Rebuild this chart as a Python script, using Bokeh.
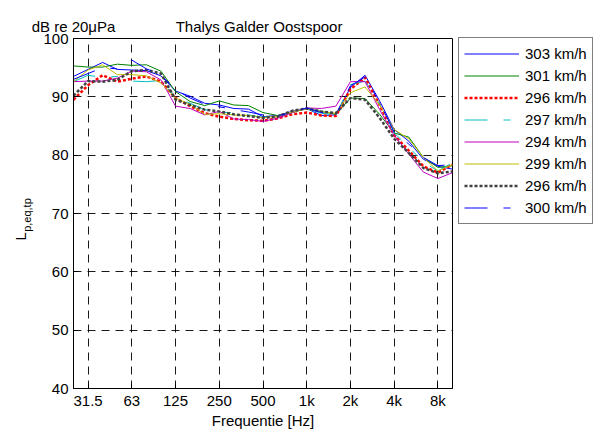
from bokeh.plotting import figure
from bokeh.models import Legend, LegendItem, FixedTicker, Range1d, LinearAxis
from bokeh.embed import file_html
from bokeh.resources import INLINE

# 1/3-octave bands (index on the x axis)
bands = ["25", "31.5", "40", "50", "63", "80", "100", "125", "160", "200", "250", "315",
         "400", "500", "630", "800", "1k", "1.25k", "1.6k", "2k", "2.5k", "3.15k", "4k",
         "5k", "6.3k", "8k", "10k"]
tick_labels = ["31.5", "63", "125", "250", "500", "1k", "2k", "4k", "8k"]
y_ticks = [40, 50, 60, 70, 80, 90, 100]

title_text = "Thalys Galder Oostspoor"
unit_text = "dB re 20\u03bcPa"
x_label = "Frequentie [Hz]"

series_names = ["303 km/h", "301 km/h", "296 km/h", "297 km/h",
                "294 km/h", "299 km/h", "296 km/h", "300 km/h"]

v303 = [93.5, 94.7, 95.9, 94.7, 94.6, 94.5, 93.6, 91.0, 90.1, 88.9, 88.6, 88.0, 87.9, 86.6,
        86.8, 87.5, 88.0, 86.8, 86.9, 91.6, 93.7, 89.3, 84.4, 82.4, 79.3, 78.1, 77.6]
v301 = [95.3, 95.1, 95.1, 95.6, 95.4, 95.5, 94.4, 90.9, 89.2, 88.5, 89.3, 88.6, 88.5, 87.3,
        86.8, 87.3, 88.0, 87.5, 87.0, 89.8, 89.7, 87.0, 83.8, 83.1, 79.6, 77.9, 78.2]
v296a = [89.5, 92.0, 93.7, 92.6, 93.1, 93.5, 92.6, 89.8, 88.4, 87.2, 86.6, 86.2, 86.0, 85.9,
         86.3, 87.0, 87.3, 86.8, 86.7, 91.3, 93.3, 88.6, 83.4, 80.8, 78.1, 77.0, 78.4]
v297 = [92.6, 93.7, 93.3, 93.5, 92.7, 92.6, 92.8, 90.0, 88.9, 87.8, 87.4, 87.2, 86.9, 86.5,
        86.7, 87.3, 87.9, 87.2, 86.9, 92.1, 92.7, 88.8, 83.8, 81.4, 78.8, 77.3, 78.7]
v294 = [92.6, 92.7, 92.7, 93.2, 94.4, 94.3, 92.9, 88.4, 88.0, 86.9, 87.5, 86.2, 86.1, 85.8,
        86.3, 87.3, 88.1, 88.0, 88.4, 92.6, 92.6, 87.8, 83.4, 80.2, 77.1, 76.0, 77.0]
v299 = [92.6, 94.6, 95.5, 93.8, 93.8, 93.6, 92.4, 89.8, 88.7, 87.0, 87.1, 86.9, 86.8, 86.4,
        86.7, 87.4, 88.0, 87.4, 87.2, 90.7, 91.7, 88.6, 84.4, 82.8, 79.6, 77.3, 78.4]
v296b = [90.2, 92.7, 92.6, 92.9, 94.4, 94.6, 94.0, 89.5, 88.6, 87.8, 87.5, 87.0, 86.7, 86.4,
         86.6, 87.6, 88.0, 87.5, 87.2, 89.8, 89.5, 86.4, 82.8, 80.4, 77.8, 76.9, 77.2]
v300 = [93.0, 94.0, 95.0, 94.8, 96.3, 94.8, 93.8, 91.2, 89.8, 88.7, 88.3, 87.8, 87.4, 86.9,
        86.7, 87.4, 88.1, 87.3, 87.0, 91.9, 93.4, 89.0, 84.0, 81.9, 79.6, 78.2, 78.4]

series_values = [v303, v301, v296a, v297, v294, v299, v296b, v300]

colors = ["#0000FF", "#008000", "#FF0000", "#00BFBF", "#BF00BF", "#BFBF00", "#404040", "#0000FF"]
dashes = ["solid", "solid", "3 2", "23 16 7 16", "solid", "solid", "3 2", "23 16 7 16"]
widths = [1, 1, 2.5, 1, 1, 1, 2.5, 1]

x_idx = list(range(len(bands)))
tick_pos = [bands.index(t) for t in tick_labels]

FONT = "Liberation Sans"
NB = "\u00a0"

p = figure(frame_width=379, frame_height=350,
           x_range=Range1d(0, len(bands) - 1), y_range=Range1d(40, 100),
           output_backend="svg", toolbar_location=None,
           min_border_left=73, min_border_right=146, min_border_top=38, min_border_bottom=37)
p.background_fill_color = "white"
p.border_fill_color = "white"
p.outline_line_color = "black"
p.outline_line_width = 1
p.outline_line_alpha = 1

for ax in (p.xaxis[0], p.yaxis[0]):
    ax.major_tick_in = 5
    ax.major_tick_out = 0
    ax.minor_tick_in = 0
    ax.minor_tick_out = 0
    ax.axis_line_color = "black"
    ax.major_tick_line_color = "black"
    ax.major_label_text_font = FONT
    ax.major_label_text_font_size = "15px"
    ax.major_label_text_color = "black"
    ax.axis_label_text_font = FONT
    ax.axis_label_text_font_style = "normal"
    ax.axis_label_text_color = "black"

p.xaxis[0].ticker = FixedTicker(ticks=tick_pos)
p.xaxis[0].major_label_overrides = {pos: lab for pos, lab in zip(tick_pos, tick_labels)}
p.xaxis[0].major_label_standoff = 3
p.xaxis[0].axis_label = x_label
p.xaxis[0].axis_label_text_font_size = "15px"
p.xaxis[0].axis_label_standoff = 0

p.yaxis[0].ticker = FixedTicker(ticks=y_ticks)
p.yaxis[0].major_label_standoff = 5
p.yaxis[0].axis_label = NB * 3 + "p,eq,tp" + NB * 4
p.yaxis[0].axis_label_text_font_size = "11px"
p.yaxis[0].axis_label_standoff = 7

# outer left axis carrying the big "L" of the y label
l_axis = LinearAxis(ticker=FixedTicker(ticks=[40]), major_label_overrides={40: ""},
                    axis_label="L" + NB * 11,
                    axis_label_text_font=FONT, axis_label_text_font_size="15px",
                    axis_label_text_font_style="normal", axis_label_text_color="black",
                    axis_label_standoff=-10, major_label_standoff=0,
                    major_label_text_font_size="1px",
                    major_tick_in=0, major_tick_out=0, minor_tick_in=0, minor_tick_out=0,
                    axis_line_color=None)
p.add_layout(l_axis, "left")

# top texts (unit at the left corner, title centred)
title_x = 12.73
top_axis = LinearAxis(ticker=FixedTicker(ticks=[0, title_x]),
                      major_label_overrides={0: unit_text, title_x: title_text},
                      major_label_text_font=FONT, major_label_text_font_size="15px",
                      major_label_text_color="black", major_label_standoff=4,
                      major_tick_in=0, major_tick_out=0, minor_tick_in=0, minor_tick_out=0,
                      axis_line_color=None)
p.add_layout(top_axis, "above")

p.xgrid.ticker = FixedTicker(ticks=tick_pos)
p.ygrid.ticker = FixedTicker(ticks=y_ticks)
for g in (p.xgrid[0], p.ygrid[0]):
    g.grid_line_color = "black"
    g.grid_line_dash = "8 6"
    g.grid_line_width = 1
    g.grid_line_alpha = 0.9

items = []
for name, vals, c, d, w in zip(series_names, series_values, colors, dashes, widths):
    r = p.line(x_idx, vals, line_color=c, line_dash=d, line_width=w)
    items.append(LegendItem(label=name, renderers=[r]))

legend = Legend(items=items, location=(6, 164))
legend.border_line_color = "black"
legend.border_line_width = 1
legend.background_fill_color = "white"
legend.background_fill_alpha = 1
legend.label_text_font = FONT
legend.label_text_font_size = "15px"
legend.label_text_color = "black"
legend.glyph_width = 55
legend.glyph_height = 21
legend.label_height = 21
legend.spacing = 1
legend.padding = 5
legend.margin = 0
legend.label_standoff = 6
p.add_layout(legend, "right")

open("out.html", "w").write(file_html(p, INLINE))
